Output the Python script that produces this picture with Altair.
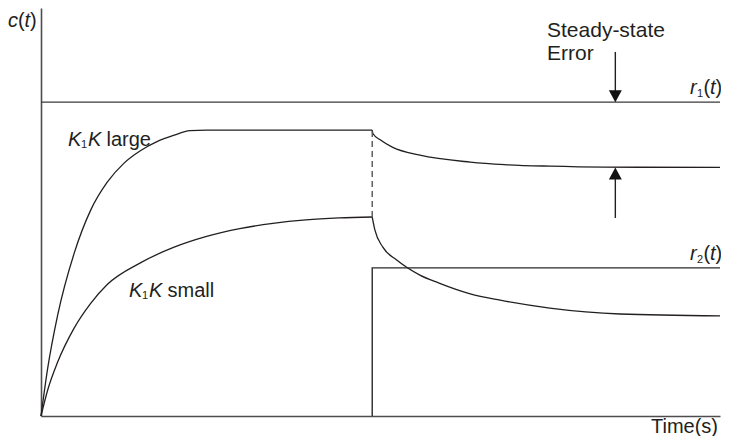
import altair as alt
import pandas as pd

# ---------------- data (time in s, response c(t)) ----------------
large_rise_t = [0, 0.1, 0.25, 0.5, 0.75, 1.0, 1.25, 1.5, 1.75, 2.0, 2.25, 2.5, 5.0]
large_rise_c = [0, 0.151, 0.32, 0.518, 0.656, 0.745, 0.805, 0.845, 0.874, 0.894, 0.909, 0.911, 0.911]
large_fall_t = [5.0, 5.01, 5.12, 5.31, 5.72, 6.48, 7.0, 7.68, 8.5, 10.25]
large_fall_c = [0.911, 0.90, 0.88, 0.856, 0.831, 0.809, 0.801, 0.796, 0.793, 0.792]

small_rise_t = [0, 0.1, 0.25, 0.5, 0.75, 1.0, 1.5, 2.0, 2.5, 3.0, 3.5, 4.0, 4.5, 5.0]
small_rise_c = [0, 0.082, 0.171, 0.28, 0.359, 0.419, 0.488, 0.537, 0.572, 0.597, 0.614, 0.625, 0.631, 0.634]
small_fall_t = [5.0, 5.04, 5.16, 5.37, 5.72, 6.0, 6.48, 6.93, 7.68, 8.74, 10.25]
small_fall_c = [0.634, 0.593, 0.538, 0.497, 0.449, 0.424, 0.389, 0.369, 0.344, 0.325, 0.319]

r1_t = [0, 10.25]
r1_c = [1.0, 1.0]
r2_t = [5.0, 5.0, 10.25]
r2_c = [0.0, 0.472, 0.472]

switch_t = [5.0, 5.0]
switch_c = [0.634, 0.911]

arrow_t = 8.67
arrow_down = [1.16, 1.0]      # shaft top, tip
arrow_up = [0.631, 0.792]     # shaft bottom, tip

T_MAX = 10.25
C_MAX = 1.3
INK = "#231f20"
FONT = "Liberation Sans"

xs = alt.Scale(domain=[0, T_MAX], nice=False, zero=False)
ys = alt.Scale(domain=[0, C_MAX], nice=False, zero=False)
xax = alt.Axis(title=None, labels=False, ticks=False, grid=False,
               domainColor="#4d4d4d", domainWidth=1.6)
yax = alt.Axis(title=None, labels=False, ticks=False, grid=False,
               domainColor="#4d4d4d", domainWidth=1.6)


def series(t, c, name):
    return pd.DataFrame({"t": t, "c": c, "s": name, "o": list(range(len(t)))})


curves = pd.concat([
    series(large_rise_t, large_rise_c, "large_rise"),
    series(large_fall_t, large_fall_c, "large_fall"),
    series(small_rise_t, small_rise_c, "small_rise"),
    series(small_fall_t, small_fall_c, "small_fall"),
])

base_x = alt.X("t:Q", scale=xs, axis=xax)
base_y = alt.Y("c:Q", scale=ys, axis=yax)

curve_layer = alt.Chart(curves).mark_line(
    color=INK, strokeWidth=1.3, interpolate="monotone"
).encode(x=base_x, y=base_y, detail="s:N", order="o:Q")

r1_layer = alt.Chart(series(r1_t, r1_c, "r1")).mark_line(
    color="#3a3a3a", strokeWidth=1.4
).encode(x=alt.X("t:Q", scale=xs), y=alt.Y("c:Q", scale=ys), order="o:Q")

r2_layer = alt.Chart(series(r2_t, r2_c, "r2")).mark_line(
    color="#2a2a2a", strokeWidth=1.4
).encode(x=alt.X("t:Q", scale=xs), y=alt.Y("c:Q", scale=ys), order="o:Q")

dash_layer = alt.Chart(series(switch_t, switch_c, "sw")).mark_line(
    color="#555555", strokeWidth=1.4, strokeDash=[6, 4]
).encode(x=alt.X("t:Q", scale=xs), y=alt.Y("c:Q", scale=ys), order="o:Q")

arrows = pd.DataFrame({
    "t": [arrow_t, arrow_t],
    "c1": [arrow_down[0], arrow_up[0]],
    "c2": [arrow_down[1] + 0.02, arrow_up[1] - 0.02],
})
shaft_layer = alt.Chart(arrows).mark_rule(color=INK, strokeWidth=1.4).encode(
    x=alt.X("t:Q", scale=xs), y=alt.Y("c1:Q", scale=ys), y2="c2:Q")

head_down = alt.Chart(pd.DataFrame({"t": [arrow_t], "c": [arrow_down[1]]})).mark_point(
    shape="M -0.54 -1 L 0.54 -1 L 0 0 Z", filled=True, size=576, color="#111111",
    opacity=1, strokeWidth=0
).encode(x=alt.X("t:Q", scale=xs), y=alt.Y("c:Q", scale=ys))

head_up = alt.Chart(pd.DataFrame({"t": [arrow_t], "c": [arrow_up[1]]})).mark_point(
    shape="M -0.54 1 L 0.54 1 L 0 0 Z", filled=True, size=576, color="#111111",
    opacity=1, strokeWidth=0
).encode(x=alt.X("t:Q", scale=xs), y=alt.Y("c:Q", scale=ys))

# ---------------- text (page-pixel anchors converted to plot coords) ----------------
PL, PT = 41, 8  # plot origin on the page


def piece(text, px, py, size=20, italic=False, align="left"):
    return alt.Chart(pd.DataFrame({"k": [0]})).mark_text(
        text=text, font=FONT, fontSize=size, fontStyle="italic" if italic else "normal",
        align=align, baseline="alphabetic", color=INK
    ).encode(x=alt.value(px - PL), y=alt.value(py - PT))


texts = []
# c(t)
texts += [piece("c", 8, 27, italic=True), piece("(", 18, 27),
          piece("t", 24.5, 27, italic=True), piece(")", 30, 27)]
# Steady-state Error
texts += [piece("Steady-state", 547, 37, size=21), piece("Error", 547, 60, size=21)]
# r1(t)
rx = 690
texts += [piece("r", rx, 94, italic=True), piece("1", rx + 7, 97, size=11),
          piece("(", rx + 13.5, 94), piece("t", rx + 20, 94, italic=True), piece(")", rx + 25.5, 94)]
# r2(t)
texts += [piece("r", rx, 260, italic=True), piece("2", rx + 7, 263, size=11),
          piece("(", rx + 13.5, 260), piece("t", rx + 20, 260, italic=True), piece(")", rx + 25.5, 260)]
# K1K large
texts += [piece("K", 68, 146, italic=True), piece("1", 81, 148, size=11),
          piece("K", 88, 146, italic=True), piece("large", 106.5, 146)]
# K1K small
texts += [piece("K", 129, 297, italic=True), piece("1", 142, 299, size=11),
          piece("K", 149, 297, italic=True), piece("small", 167.5, 297)]
# Time(s)
texts += [piece("Time(s)", 718, 433, align="right")]

chart = alt.layer(
    curve_layer, r1_layer, r2_layer, dash_layer, shaft_layer, head_down, head_up, *texts
).properties(
    width=679, height=408,
    padding={"left": 33, "top": 0, "right": 1, "bottom": 20},
    autosize=alt.AutoSizeParams(type="none"),
    background="white",
).configure_view(stroke=None)

chart.save("out.html", embed_options={"renderer": "svg", "actions": False})
